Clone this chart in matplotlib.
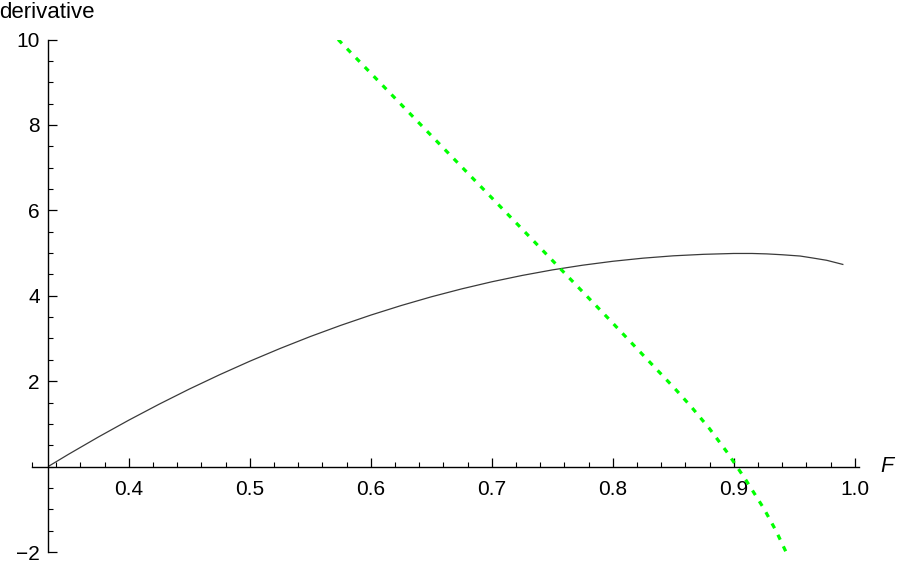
import matplotlib
matplotlib.use('Agg')
import matplotlib.pyplot as plt
from matplotlib.ticker import FixedLocator, MultipleLocator

plt.rcParams['font.family'] = ['Liberation Sans', 'DejaVu Sans']

# black curve
curve_x = [0.3333, 0.35, 0.375, 0.40, 0.425, 0.45, 0.475, 0.50, 0.525, 0.55,
           0.575, 0.60, 0.625, 0.65, 0.675, 0.70, 0.725, 0.75, 0.775, 0.80,
           0.825, 0.85, 0.875, 0.90, 0.915, 0.9272, 0.94, 0.9548, 0.965,
           0.9768, 0.9906]
curve_y = [0.0, 0.285, 0.695, 1.087, 1.46, 1.815, 2.15, 2.467, 2.765, 3.045,
           3.305, 3.547, 3.77, 3.975, 4.16, 4.327, 4.475, 4.605, 4.715, 4.807,
           4.88, 4.935, 4.97, 4.99, 4.99, 4.98, 4.96, 4.93, 4.885,
           4.83, 4.73]

# green dotted curve
green_x = [0.573, 0.65, 0.7234, 0.7956, 0.8515, 0.865, 0.88, 0.895, 0.91,
           0.925, 0.935, 0.943]
green_y = [10.0, 7.75, 5.61, 3.49, 1.82, 1.395, 0.885, 0.315, -0.315,
           -0.99, -1.51, -1.99]

x_ticks = [0.4, 0.5, 0.6, 0.7, 0.8, 0.9, 1.0]
x_labels = ['0.4', '0.5', '0.6', '0.7', '0.8', '0.9', '1.0']
y_ticks = [-2, 2, 4, 6, 8, 10]
y_labels = ['\u22122', '2', '4', '6', '8', '10']

W, H = 897, 566
fig = plt.figure(figsize=(W / 100, H / 100), dpi=100)
left, right = 32 / W, 859 / W
bottom, top = 14 / H, (H - 39.5) / H
ax = fig.add_axes([left, bottom, right - left, top - bottom])
ax.set_xlim(0.32, 0.32 + 827 / 1210)
ax.set_ylim(-2, 10)

ax.plot(curve_x, curve_y, color='#3a3a3a', lw=0.9, solid_capstyle='butt',
        solid_joinstyle='round')
ax.plot(green_x, green_y, color='#00ff00', lw=2.3, linestyle=(0, (1.7, 2.3)))

for s in ['top', 'right']:
    ax.spines[s].set_visible(False)
ax.spines['left'].set_position(('data', 1 / 3))
ax.spines['bottom'].set_position(('data', 0))
for s in ['left', 'bottom']:
    ax.spines[s].set_linewidth(1.0)
    ax.spines[s].set_color('black')

ax.xaxis.set_major_locator(FixedLocator(x_ticks))
ax.set_xticklabels(x_labels)
ax.xaxis.set_minor_locator(MultipleLocator(0.02))
ax.yaxis.set_major_locator(FixedLocator(y_ticks))
ax.set_yticklabels(y_labels)
ax.yaxis.set_minor_locator(MultipleLocator(0.5))

ax.tick_params(axis='x', which='major', direction='in', length=6.5, width=0.9,
               pad=10, labelsize=15)
ax.tick_params(axis='x', which='minor', direction='in', length=3.5, width=0.8)
ax.tick_params(axis='y', which='major', direction='in', length=6.5, width=0.9,
               pad=6, labelsize=15)
ax.tick_params(axis='y', which='minor', direction='in', length=3.5, width=0.8)

fig.text(95 / W, 1 - 12 / H, 'derivative', ha='right', va='center', fontsize=16)
fig.text(880 / W, 1 - 466 / H, 'F', ha='left', va='center', fontsize=15.5, style='italic')

fig.savefig('out.png', dpi=100)
